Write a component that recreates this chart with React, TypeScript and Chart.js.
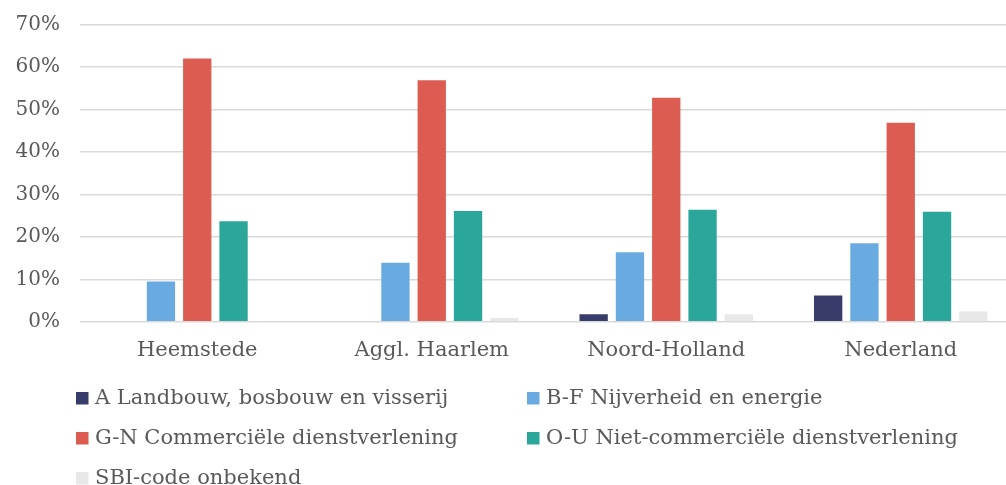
import React, { useEffect, useRef } from "react";
import { Chart, registerables } from "chart.js";

Chart.register(...registerables);

const categories = ["Heemstede", "Aggl. Haarlem", "Noord-Holland", "Nederland"];
const seriesNames = [
  "A Landbouw, bosbouw en visserij",
  "B-F Nijverheid en energie",
  "G-N Commerciële dienstverlening",
  "O-U Niet-commerciële dienstverlening",
  "SBI-code onbekend",
];
const landbouw = [0, 0, 1.8, 6.2];
const nijverheid = [9.5, 13.9, 16.4, 18.5];
const commercieel = [62.0, 56.9, 52.8, 46.9];
const nietCommercieel = [23.7, 26.1, 26.4, 25.9];
const onbekend = [0, 0.9, 1.8, 2.4];
const seriesColors = ["#383c6a", "#69abe0", "#dd5c51", "#2ba69b", "#e8e8e8"];
const yTicks = [0, 10, 20, 30, 40, 50, 60, 70];

const FONT = "'DejaVu Serif', 'Liberation Serif', serif";
const TEXT = "#595959";

const legendPlugin = {
  id: "gridLegend",
  afterDraw(chart: any) {
    const ctx = chart.ctx;
    const ds = chart.data.datasets;
    const colX = [76, 527];
    const rowY = [398, 438, 478];
    ctx.save();
    ctx.font = `21px ${FONT}`;
    ctx.textBaseline = "middle";
    ctx.textAlign = "left";
    ds.forEach((d: any, i: number) => {
      const x = colX[i % 2];
      const y = rowY[Math.floor(i / 2)];
      ctx.fillStyle = d.backgroundColor;
      ctx.fillRect(x, y - 6, 12.5, 12.5);
      ctx.fillStyle = TEXT;
      ctx.fillText(d.label, x + 19, y + 1);
    });
    ctx.restore();
  },
};

export default function App() {
  const ref = useRef<HTMLCanvasElement | null>(null);
  useEffect(() => {
    if (!ref.current) return;
    const data = [landbouw, nijverheid, commercieel, nietCommercieel, onbekend];
    const chart = new Chart(ref.current, {
      type: "bar",
      data: {
        labels: categories,
        datasets: seriesNames.map((name, i) => ({
          label: name,
          data: data[i],
          backgroundColor: seriesColors[i],
          borderWidth: 0,
          barPercentage: 0.78,
          categoryPercentage: 0.774,
        })),
      },
      options: {
        animation: false,
        responsive: false,
        maintainAspectRatio: false,
        layout: { padding: { top: 24.6, bottom: 106, left: 0, right: 0 } },
        plugins: {
          legend: { display: false },
          tooltip: { enabled: false },
        },
        scales: {
          x: {
            grid: { display: false, drawTicks: false },
            border: { display: false },
            ticks: {
              color: TEXT,
              padding: 16,
              font: { family: FONT, size: 21 },
            },
          },
          y: {
            min: 0,
            max: 70,
            afterFit: (scale: any) => {
              scale.width = 80;
              scale.paddingTop = 0;
              scale.paddingBottom = 0;
            },
            afterBuildTicks: (scale: any) => {
              scale.ticks = yTicks.map((v) => ({ value: v }));
            },
            grid: { color: "#d9d9d9", lineWidth: 1.5, drawTicks: false },
            border: { display: false },
            ticks: {
              color: TEXT,
              padding: 20,
              font: { family: FONT, size: 20 },
              callback: (v: any) => `${v}%`,
            },
          },
        },
      },
      plugins: [legendPlugin],
    });
    return () => chart.destroy();
  }, []);
  return (
    <div
      style={{
        position: "fixed",
        left: 0,
        top: 0,
        width: 1006,
        height: 485,
        overflow: "hidden",
        background: "#fff",
      }}
    >
      <canvas ref={ref} width={1018} height={485} style={{ display: "block" }} />
    </div>
  );
}
